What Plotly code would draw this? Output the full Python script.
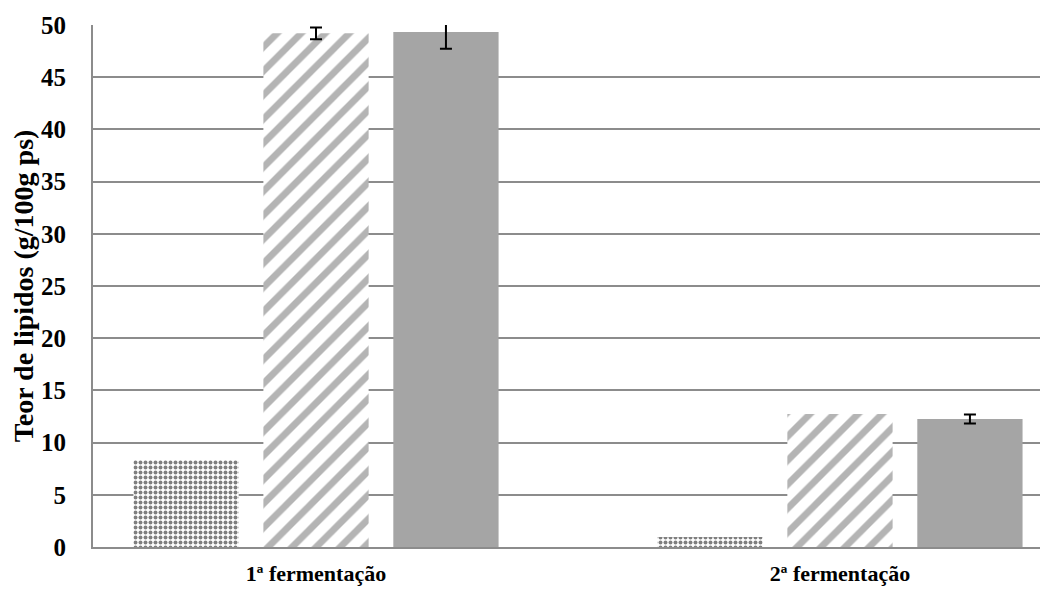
import plotly.graph_objects as go

categories = ["1ª fermentação", "2ª fermentação"]
serie_pontilhada = [8.33, 0.95]
serie_listrada = [49.2, 12.74]
serie_cinza = [49.33, 12.26]
erro_listrada = [0.57]          # only the first bar has a visible error bar
erro_cinza = [1.6, 0.43]
y_ticks = [0, 5, 10, 15, 20, 25, 30, 35, 40, 45, 50]

FONT = "Liberation Serif, Times New Roman, serif"
err_style = dict(type="data", visible=True, color="black", thickness=2, width=6)

fig = go.Figure()
fig.add_trace(go.Bar(
    x=categories, y=serie_pontilhada, name="Série 1",
    marker=dict(color="white", line=dict(width=0),
                pattern=dict(shape=".", fgcolor="#000000", bgcolor="white", size=5, solidity=0.5)),
))
fig.add_trace(go.Bar(
    x=categories, y=serie_listrada, name="Série 2",
    marker=dict(color="white", line=dict(width=0),
                pattern=dict(shape="/", fgcolor="#6a6a6a", bgcolor="white", size=17, solidity=0.4)),
    error_y=dict(array=erro_listrada, **err_style),
))
fig.add_trace(go.Bar(
    x=categories, y=serie_cinza, name="Série 3",
    marker=dict(color="#a5a5a5", line=dict(width=0)),
    error_y=dict(array=erro_cinza, **err_style),
))

fig.update_layout(
    width=1040, height=584,
    margin=dict(l=85, r=0, t=17, b=45),
    paper_bgcolor="white", plot_bgcolor="white",
    barmode="group", bargap=0.256, bargroupgap=0.19,
    showlegend=False,
    font=dict(family=FONT, size=22, color="black"),
)
fig.update_xaxes(
    range=[-0.4256, 1.397], showgrid=False,
    showline=True, linecolor="#8c8c8c", linewidth=2,
    ticks="", ticklabelstandoff=6,
    tickfont=dict(family=FONT, size=22, color="black", weight="bold"),
)
fig.update_yaxes(
    range=[0, 50], tickvals=y_ticks, ticktext=[str(v) for v in y_ticks],
    showgrid=True, gridcolor="#8c8c8c", gridwidth=2,
    showline=True, linecolor="#8c8c8c", linewidth=2, zeroline=False,
    ticks="", ticklabelstandoff=20,
    tickfont=dict(family=FONT, size=25, color="black", weight="bold"),
    title=dict(text="<b>Teor de lipidos (g/100g ps)</b>", font=dict(family=FONT, size=28, color="black"), standoff=7),
)

fig.write_html("out.html")
